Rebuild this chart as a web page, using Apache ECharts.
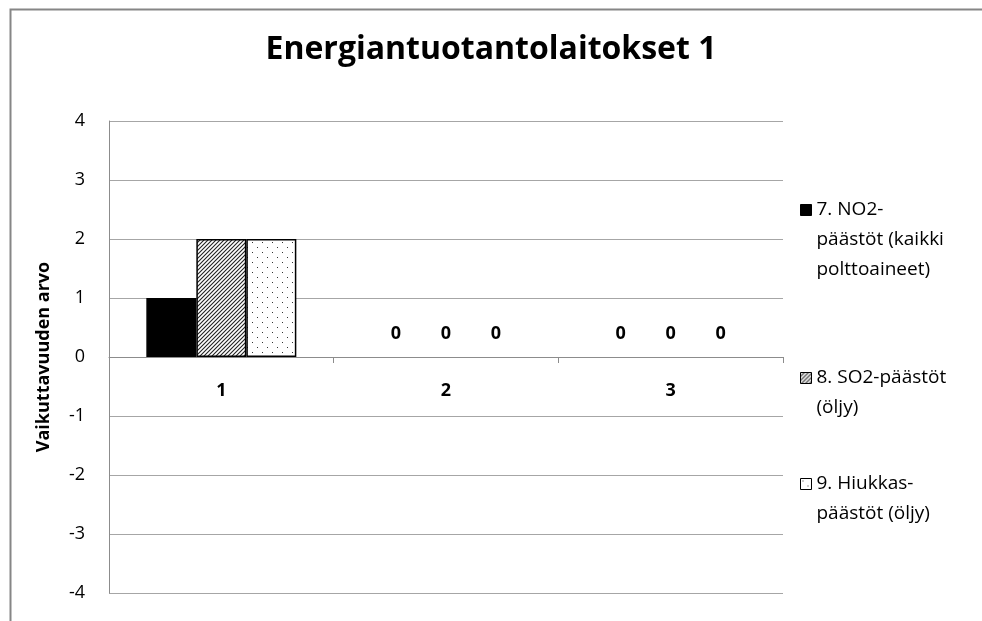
<!DOCTYPE html>
<html>
<head>
<meta charset="utf-8">
<script src="https://cdn.jsdelivr.net/npm/echarts@6/dist/echarts.min.js"></script>
<style>
  html, body { margin: 0; padding: 0; background: #fff; }
  #chart { width: 982px; height: 621px; }
</style>
</head>
<body>
<div id="chart"></div>
<script>
// Chart data
const categories = ['1', '2', '3'];
const seriesNames = [
  '7. NO2-\npäästöt (kaikki\npolttoaineet)',
  '8. SO2-päästöt\n(öljy)',
  '9. Hiukkas-\npäästöt (öljy)'
];
const no2Values = [1, 0, 0];
const so2Values = [2, 0, 0];
const particleValues = [2, 0, 0];
const yTicks = [-4, -3, -2, -1, 0, 1, 2, 3, 4];

const FONT = '"Open Sans", "Noto Sans", sans-serif';

// Fill patterns: diagonal hatch and sparse dots
function hatchPattern() {
  const c = document.createElement('canvas');
  c.width = 4; c.height = 4;
  const g = c.getContext('2d');
  g.fillStyle = '#fff';
  g.fillRect(0, 0, 4, 4);
  g.strokeStyle = '#222';
  g.lineWidth = 1.1;
  g.beginPath();
  g.moveTo(-1, 5); g.lineTo(5, -1);
  g.moveTo(-1, 1); g.lineTo(1, -1);
  g.moveTo(3, 5); g.lineTo(5, 3);
  g.stroke();
  return { image: c, repeat: 'repeat' };
}
function dotPattern() {
  const c = document.createElement('canvas');
  c.width = 10; c.height = 10;
  const g = c.getContext('2d');
  g.fillStyle = '#fff';
  g.fillRect(0, 0, 10, 10);
  g.fillStyle = '#333';
  g.fillRect(2, 2, 1, 1);
  g.fillRect(7, 7, 1, 1);
  return { image: c, repeat: 'repeat' };
}

const fills = ['#000000', hatchPattern(), dotPattern()];
const valueSets = [no2Values, so2Values, particleValues];

// Zero-height bars carry only their value label
function toData(values) {
  return values.map(v => ({
    value: v,
    label: { show: v === 0 },
    itemStyle: v === 0 ? { borderWidth: 0 } : undefined
  }));
}

const series = valueSets.map((vals, i) => ({
  name: seriesNames[i],
  type: 'bar',
  barWidth: 50,
  barGap: '0%',
  data: toData(vals),
  itemStyle: { color: fills[i], borderColor: '#000', borderWidth: 1.5 },
  label: {
    position: 'top',
    distance: 14,
    color: '#000',
    fontFamily: FONT,
    fontWeight: 'bold',
    fontSize: 18
  },
  emphasis: { disabled: true }
}));

// One legend block per series; leading blank lines keep the icon on the first text line
const legendTops = [135, 333, 439];
const legends = seriesNames.map((name, i) => ({
  data: [name],
  orient: 'vertical',
  left: 800,
  top: legendTops[i],
  padding: 0,
  icon: 'rect',
  itemWidth: 11,
  itemHeight: 11,
  itemGap: 4,
  selectedMode: false,
  itemStyle: { borderColor: '#000', borderWidth: 1 },
  formatter: n => '\n'.repeat(n.split('\n').length - 1) + n,
  textStyle: {
    fontFamily: FONT,
    fontSize: 19,
    lineHeight: 30,
    color: '#000'
  }
}));

const chart = echarts.init(document.getElementById('chart'));
chart.setOption({
  animation: false,
  backgroundColor: '#fff',
  title: {
    text: 'Energiantuotantolaitokset 1',
    left: 'center',
    top: 34,
    padding: 0,
    textStyle: { fontFamily: FONT, fontWeight: 'bold', fontSize: 32, color: '#000' }
  },
  legend: legends,
  grid: { left: 109, right: 199, top: 121, bottom: 28, containLabel: false, outerBoundsMode: 'none' },
  xAxis: {
    type: 'category',
    data: categories,
    position: 'bottom',
    // category axis sits on the value-axis zero line (half of the symmetric -4..4 range)
    offset: -236,
    axisLine: { onZero: false, lineStyle: { color: '#8c8c8c', width: 1 } },
    axisTick: { show: true, length: 6, alignWithLabel: false, lineStyle: { color: '#8c8c8c' } },
    axisLabel: { margin: 25, color: '#000', fontFamily: FONT, fontWeight: 'bold', fontSize: 18 },
    splitLine: { show: false }
  },
  yAxis: {
    type: 'value',
    min: yTicks[0],
    max: yTicks[yTicks.length - 1],
    interval: 1,
    name: 'Vaikuttavuuden arvo',
    nameLocation: 'middle',
    nameRotate: 90,
    nameGap: 56,
    nameTextStyle: { fontFamily: FONT, fontWeight: 'bold', fontSize: 18, color: '#000' },
    axisLine: { show: true, lineStyle: { color: '#8c8c8c', width: 1 } },
    axisTick: { show: false },
    axisLabel: { margin: 24, color: '#000', fontFamily: FONT, fontSize: 18 },
    splitLine: { show: true, lineStyle: { color: '#a6a6a6', width: 1 } }
  },
  graphic: [{
    type: 'rect',
    left: 8,
    top: 7,
    shape: { x: 0, y: 0, width: 1000, height: 700 },
    style: { fill: 'none', stroke: '#868686', lineWidth: 2 },
    silent: true
  }],
  series: series
});
</script>
</body>
</html>
